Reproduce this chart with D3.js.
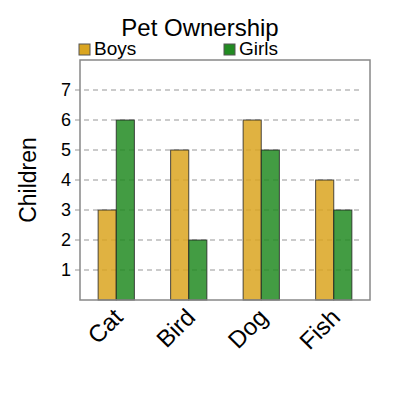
<!DOCTYPE html>
<html>
<head>
<meta charset="utf-8">
<script src="https://cdn.jsdelivr.net/npm/d3@7"></script>
<style>
  body { margin: 0; background: #fff; }
  text { font-family: "Liberation Sans", Arial, sans-serif; fill: #000; }
</style>
</head>
<body>
<svg id="chart" width="400" height="400"></svg>
<script>
// data
var pets = ["Cat", "Bird", "Dog", "Fish"];
var groups = ["Boys", "Girls"];
var boys = [3, 5, 6, 4];
var girls = [6, 2, 5, 3];
var yTicks = [1, 2, 3, 4, 5, 6, 7];
var colors = ["goldenrod", "forestgreen"];

var svg = d3.select("#chart"),
    mLeft = 80, mRight = 370, mTop = 60, mBottom = 300;

var x = d3.scaleBand().domain(pets).range([mLeft, mRight]).paddingInner(0.5).paddingOuter(0.25);
var xs = d3.scaleBand().domain(groups).range([0, x.bandwidth()]);
var y = d3.scaleLinear().domain([0, 8]).range([mBottom, mTop]);
var color = d3.scaleOrdinal().domain(groups).range(colors);

// grid lines
svg.append("g").selectAll("line")
    .data(yTicks)
  .enter().append("line")
    .attr("x1", mLeft - 5)
    .attr("x2", mRight - 10)
    .attr("y1", function (d) { return y(d); })
    .attr("y2", function (d) { return y(d); })
    .style("stroke", "#bbb")
    .style("stroke-width", 1.5)
    .style("stroke-dasharray", "5,4");

// y tick labels
svg.append("g").selectAll("text")
    .data(yTicks)
  .enter().append("text")
    .attr("x", mLeft - 9)
    .attr("y", function (d) { return y(d); })
    .attr("dy", "0.35em")
    .attr("text-anchor", "end")
    .style("font-size", "18px")
    .text(function (d) { return d; });

// bars
var rows = pets.map(function (p, i) {
  return { pet: p, values: [{ g: "Boys", v: boys[i] }, { g: "Girls", v: girls[i] }] };
});

svg.append("g").selectAll("g")
    .data(rows)
  .enter().append("g")
    .attr("transform", function (d) { return "translate(" + x(d.pet) + ",0)"; })
  .selectAll("rect")
    .data(function (d) { return d.values; })
  .enter().append("rect")
    .attr("x", function (d) { return xs(d.g); })
    .attr("y", function (d) { return y(d.v); })
    .attr("width", xs.bandwidth())
    .attr("height", function (d) { return y(0) - y(d.v); })
    .style("fill", function (d) { return color(d.g); })
    .style("fill-opacity", 0.85)
    .style("stroke", "#222")
    .style("stroke-opacity", 0.8)
    .style("stroke-width", 1);

// frame
svg.append("rect")
    .attr("x", mLeft)
    .attr("y", mTop)
    .attr("width", mRight - mLeft)
    .attr("height", mBottom - mTop)
    .style("fill", "none")
    .style("stroke", "#888")
    .style("stroke-width", 1.5);

// x labels
svg.append("g").selectAll("text")
    .data(pets)
  .enter().append("text")
    .attr("transform", function (d) {
      return "translate(" + (x(d) + x.bandwidth() / 2 - 4) + "," + (mBottom + 7) + ") rotate(-45)";
    })
    .attr("text-anchor", "end")
    .attr("dy", "0.7em")
    .style("font-size", "24px")
    .text(function (d) { return d; });

// y axis title
svg.append("text")
    .attr("transform", "translate(36," + ((mTop + mBottom) / 2) + ") rotate(-90)")
    .attr("text-anchor", "middle")
    .style("font-size", "23px")
    .text("Children");

// title
svg.append("text")
    .attr("x", 200)
    .attr("y", 36)
    .attr("text-anchor", "middle")
    .style("font-size", "24px")
    .text("Pet Ownership");

// legend
var legend = svg.append("g").selectAll("g")
    .data(groups)
  .enter().append("g")
    .attr("transform", function (d, i) { return "translate(" + (mLeft - 1 + i * (mRight - mLeft) / 2) + ",44)"; });

legend.append("rect")
    .attr("width", 11)
    .attr("height", 11)
    .style("fill", function (d) { return color(d); })
    .style("stroke", "#555")
    .style("stroke-width", 1);

legend.append("text")
    .attr("x", 15)
    .attr("y", 11)
    .style("font-size", "19px")
    .text(function (d) { return d; });
</script>
</body>
</html>
